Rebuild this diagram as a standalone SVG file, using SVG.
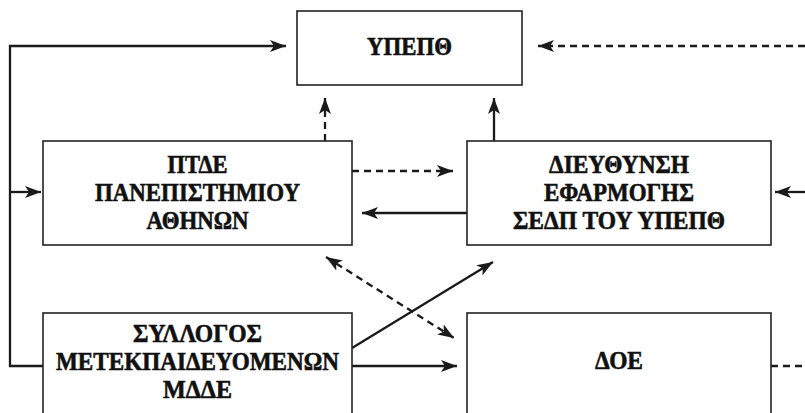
<svg xmlns="http://www.w3.org/2000/svg" width="805" height="413" viewBox="0 0 805 413">
<style>
.box{fill:#fff;stroke:#222;stroke-width:1.6}
.t{font-family:"Liberation Serif","Times New Roman",serif;font-weight:bold;font-size:25px;fill:#111;stroke:#111;stroke-width:0.6;text-anchor:middle}
.c{fill:none;stroke:#1a1a1a;stroke-width:2.3}
.d{stroke-dasharray:7 5}
</style>
<defs>
<marker id="ah" viewBox="0 0 16 12" refX="16" refY="6" markerWidth="16" markerHeight="12" markerUnits="userSpaceOnUse" orient="auto-start-reverse">
<path d="M0,0 L16,6 L0,12 L4,6 Z" fill="#1a1a1a"/>
</marker>
</defs>
<rect width="805" height="413" fill="#fff"/>
<g id="connectors">
<path class="c" d="M43,366 H10 V46 H286" marker-end="url(#ah)"/>
<path class="c" d="M10,192 H41" marker-end="url(#ah)"/>
<path class="c d" d="M325,141 V98" marker-end="url(#ah)"/>
<path class="c" d="M494,141 V98" marker-end="url(#ah)"/>
<path class="c d" d="M805,46 H538" marker-end="url(#ah)"/>
<path class="c d" d="M352,171 H453" marker-end="url(#ah)"/>
<path class="c" d="M467,213 H362" marker-end="url(#ah)"/>
<path class="c" d="M805,192 H775" marker-end="url(#ah)"/>
<path class="c" d="M352,348 L493,262" marker-end="url(#ah)"/>
<path class="c d" d="M326,257 L454,338" marker-start="url(#ah)" marker-end="url(#ah)"/>
<path class="c" d="M352,366 H457" marker-end="url(#ah)"/>
<path class="c d" d="M771,366 H805"/>
</g>
<g id="ypepth">
<rect class="box" x="297" y="11" width="225" height="74"/>
<text class="t" x="409.5" y="55" textLength="85" lengthAdjust="spacingAndGlyphs">ΥΠΕΠΘ</text>
</g>
<g id="ptde">
<rect class="box" x="43" y="141" width="309" height="104"/>
<text class="t" x="197.5" y="173" textLength="60" lengthAdjust="spacingAndGlyphs">ΠΤΔΕ</text>
<text class="t" x="197.5" y="201" textLength="205" lengthAdjust="spacingAndGlyphs">ΠΑΝΕΠΙΣΤΗΜΙΟΥ</text>
<text class="t" x="197.5" y="229" textLength="102" lengthAdjust="spacingAndGlyphs">ΑΘΗΝΩΝ</text>
</g>
<g id="dieythynsi">
<rect class="box" x="467" y="141" width="304" height="104"/>
<text class="t" x="619" y="173" textLength="140" lengthAdjust="spacingAndGlyphs">ΔΙΕΥΘΥΝΣΗ</text>
<text class="t" x="619" y="201" textLength="150" lengthAdjust="spacingAndGlyphs">ΕΦΑΡΜΟΓΗΣ</text>
<text class="t" x="619" y="229" textLength="212" lengthAdjust="spacingAndGlyphs">ΣΕΔΠ ΤΟΥ ΥΠΕΠΘ</text>
</g>
<g id="syllogos">
<rect class="box" x="43" y="313" width="309" height="120"/>
<text class="t" x="197.5" y="342" textLength="129" lengthAdjust="spacingAndGlyphs">ΣΥΛΛΟΓΟΣ</text>
<text class="t" x="197.5" y="370" textLength="283" lengthAdjust="spacingAndGlyphs">ΜΕΤΕΚΠΑΙΔΕΥΟΜΕΝΩΝ</text>
<text class="t" x="197.5" y="398" textLength="69" lengthAdjust="spacingAndGlyphs">ΜΔΔΕ</text>
</g>
<g id="doe">
<rect class="box" x="467" y="313" width="304" height="120"/>
<text class="t" x="619" y="369" textLength="48" lengthAdjust="spacingAndGlyphs">ΔΟΕ</text>
</g>
</svg>
